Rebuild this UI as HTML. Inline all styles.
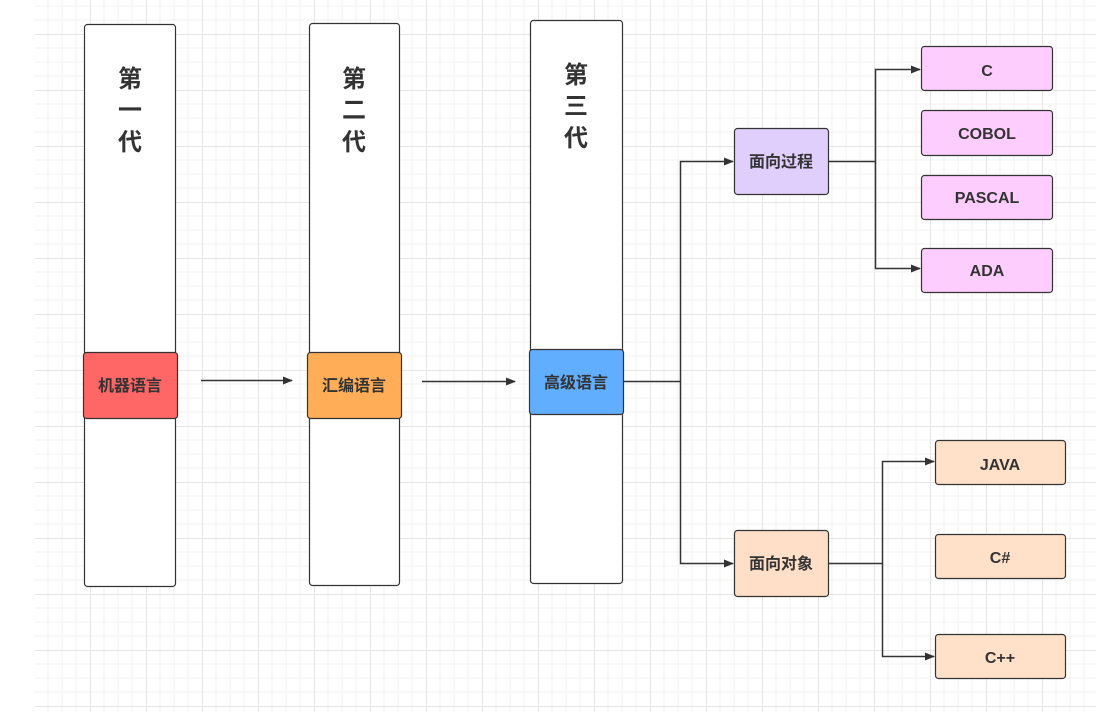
<!DOCTYPE html>
<html><head><meta charset="utf-8"><style>
html,body{margin:0;padding:0;background:#fff;}
svg{display:block;}
text{font-family:"Liberation Sans","Noto Sans CJK SC",sans-serif;font-weight:bold;fill:#333;}
</style></head><body>
<svg width="1096" height="719" viewBox="0 0 1096 719" xmlns="http://www.w3.org/2000/svg">
<defs>
<pattern id="g" x="34" y="34" width="56" height="56" patternUnits="userSpaceOnUse">
<path d="M14 0V56M28 0V56M42 0V56M0 14H56M0 28H56M0 42H56" stroke="#f2f2f2" stroke-width="1" fill="none"/>
<path d="M0.5 0V56M0 0.5H56" stroke="#e6e6e6" stroke-width="1" fill="none"/>
</pattern>
<marker id="a" markerWidth="10" markerHeight="8" refX="9" refY="4" orient="auto" markerUnits="userSpaceOnUse">
<path d="M0 0L10 4L0 8Z" fill="#333"/>
</marker>
</defs>
<rect x="35" y="0" width="1061" height="712" fill="url(#g)"/>
<g stroke="#333" stroke-width="1.2">
<rect x="84.5" y="24.5" width="91" height="562" rx="3" fill="#fff"/>
<rect x="309.5" y="23.5" width="90" height="562" rx="3" fill="#fff"/>
<rect x="530.5" y="20.5" width="92" height="563" rx="3" fill="#fff"/>
<rect x="83.5" y="352.5" width="94" height="66" rx="3" fill="#ff6666"/>
<rect x="307.5" y="352.5" width="94" height="66" rx="3" fill="#ffae57"/>
<rect x="529.5" y="349.5" width="94" height="65" rx="3" fill="#62aefe"/>
<rect x="734.5" y="128.5" width="94" height="66" rx="3" fill="#e0cffd"/>
<rect x="734.5" y="530.5" width="94" height="66" rx="3" fill="#ffdfc7"/>
<rect x="921.5" y="46.5" width="131" height="44" rx="3" fill="#fdcdfd"/>
<rect x="921.5" y="110.5" width="131" height="45" rx="3" fill="#fdcdfd"/>
<rect x="921.5" y="175.5" width="131" height="44" rx="3" fill="#fdcdfd"/>
<rect x="921.5" y="248.5" width="131" height="44" rx="3" fill="#fdcdfd"/>
<rect x="935.5" y="440.5" width="130" height="44" rx="3" fill="#ffe0c8"/>
<rect x="935.5" y="534.5" width="130" height="44" rx="3" fill="#ffe0c8"/>
<rect x="935.5" y="634.5" width="130" height="44" rx="3" fill="#ffe0c8"/>
</g>
<g stroke="#333" stroke-width="1.5" fill="none">
<path d="M201 380.5H292" marker-end="url(#a)"/>
<path d="M422 381.5H515" marker-end="url(#a)"/>
<path d="M624 381.5H680.5V161.5H733" marker-end="url(#a)"/>
<path d="M680.5 381.5V563.5H733" marker-end="url(#a)"/>
<path d="M829 161.5H875.5V69.5H920" marker-end="url(#a)"/>
<path d="M875.5 161.5V268.5H920" marker-end="url(#a)"/>
<path d="M829 563.5H882.5V461.5H934" marker-end="url(#a)"/>
<path d="M882.5 563.5V656.5H934" marker-end="url(#a)"/>
</g>
<g font-size="24" text-anchor="middle">
<text x="130" y="87">第</text><text x="130" y="118">一</text><text x="130" y="150">代</text>
<text x="354" y="87">第</text><text x="354" y="118">二</text><text x="354" y="150">代</text>
<text x="576" y="83">第</text><text x="576" y="114">三</text><text x="576" y="146">代</text>
</g>
<g font-size="16" text-anchor="middle">
<text x="130" y="391">机器语言</text>
<text x="354" y="391">汇编语言</text>
<text x="576" y="388">高级语言</text>
<text x="781" y="167">面向过程</text>
<text x="781" y="569">面向对象</text>
<text x="987" y="76">C</text>
<text x="987" y="139">COBOL</text>
<text x="987" y="203">PASCAL</text>
<text x="987" y="276">ADA</text>
<text x="1000" y="470">JAVA</text>
<text x="1000" y="563">C#</text>
<text x="1000" y="663">C++</text>
</g>
</svg>
</body></html>
